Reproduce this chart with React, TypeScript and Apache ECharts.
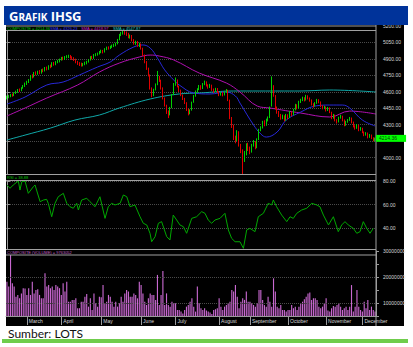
import React, { useEffect, useRef } from 'react';
import * as echarts from 'echarts';

// [open, close, low, high] per trading day (mid-Feb .. early Dec)
const CANDLES: number[][] = [
  // Feb
  [4540, 4552, 4530, 4565], [4555, 4560, 4541, 4572], [4558, 4570, 4550, 4580], [4575, 4566, 4555, 4584],
  [4566, 4589, 4560, 4596], [4592, 4598, 4580, 4610], [4600, 4616, 4590, 4625], [4620, 4610, 4598, 4630],
  [4612, 4634, 4605, 4642], [4636, 4655, 4628, 4662], [4650, 4671, 4644, 4684],
  // Mar
  [4675, 4689, 4662, 4700], [4692, 4700, 4680, 4716], [4705, 4744, 4700, 4752], [4748, 4735, 4722, 4760],
  [4738, 4771, 4730, 4780], [4775, 4765, 4750, 4786], [4762, 4780, 4755, 4792], [4786, 4772, 4760, 4798],
  [4770, 4799, 4765, 4806], [4802, 4790, 4778, 4812], [4792, 4817, 4785, 4826], [4820, 4810, 4795, 4830],
  [4808, 4835, 4800, 4842], [4840, 4828, 4815, 4848], [4830, 4862, 4824, 4870], [4866, 4850, 4838, 4872],
  [4848, 4872, 4842, 4880], [4870, 4880, 4860, 4892], [4878, 4890, 4868, 4902],
  // Apr
  [4892, 4908, 4884, 4918], [4912, 4900, 4888, 4920], [4898, 4917, 4890, 4926], [4920, 4922, 4905, 4934],
  [4918, 4926, 4908, 4938], [4930, 4915, 4902, 4936], [4918, 4908, 4890, 4924], [4910, 4895, 4880, 4915],
  [4898, 4872, 4860, 4902], [4875, 4860, 4845, 4882], [4858, 4853, 4835, 4870], [4855, 4848, 4830, 4866],
  [4845, 4853, 4832, 4862], [4850, 4862, 4842, 4874], [4860, 4872, 4850, 4882], [4875, 4890, 4866, 4898],
  [4892, 4917, 4885, 4925], [4920, 4908, 4896, 4928], [4905, 4935, 4900, 4944], [4938, 4940, 4924, 4952],
  [4944, 4945, 4930, 4958], [4948, 4963, 4940, 4972],
  // May
  [4965, 4972, 4952, 4984], [4975, 4965, 4950, 4982], [4962, 4990, 4958, 4998], [4992, 5000, 4980, 5012],
  [5004, 4999, 4985, 5014], [4998, 5010, 4990, 5020], [5012, 5018, 5000, 5030], [5020, 5025, 5008, 5038],
  [5028, 5036, 5015, 5048], [5040, 5072, 5032, 5082], [5076, 5118, 5070, 5128], [5120, 5136, 5108, 5145],
  [5138, 5148, 5122, 5155], [5150, 5136, 5120, 5158], [5138, 5127, 5110, 5150], [5130, 5100, 5088, 5138],
  [5098, 5109, 5085, 5122], [5112, 5072, 5060, 5118], [5070, 5045, 5030, 5080], [5040, 5054, 5028, 5066],
  [5058, 5027, 5010, 5064], [5025, 5036, 5008, 5048],
  // Jun
  [5030, 4999, 4985, 5040], [4995, 4935, 4925, 5002], [4930, 4872, 4860, 4940], [4868, 4817, 4800, 4880],
  [4812, 4753, 4740, 4820], [4750, 4634, 4620, 4758], [4630, 4570, 4550, 4640], [4568, 4616, 4560, 4628],
  [4620, 4662, 4612, 4676], [4668, 4726, 4660, 4790], [4730, 4707, 4690, 4745], [4700, 4634, 4620, 4710],
  [4630, 4543, 4530, 4640], [4540, 4479, 4465, 4548], [4475, 4415, 4398, 4482], [4410, 4388, 4360, 4430],
  [4392, 4452, 4385, 4462], [4455, 4570, 4450, 4580], [4575, 4662, 4570, 4680],
  // Jul
  [4665, 4707, 4655, 4730], [4700, 4650, 4640, 4712], [4648, 4610, 4598, 4656], [4612, 4570, 4560, 4620],
  [4568, 4540, 4525, 4575], [4538, 4500, 4488, 4545], [4498, 4440, 4425, 4505], [4438, 4400, 4385, 4448],
  [4402, 4430, 4395, 4440], [4432, 4500, 4428, 4510], [4505, 4560, 4500, 4570], [4562, 4600, 4555, 4612],
  [4602, 4620, 4590, 4632], [4625, 4650, 4615, 4662], [4652, 4630, 4618, 4660], [4632, 4670, 4625, 4680],
  [4672, 4690, 4660, 4702], [4688, 4660, 4648, 4695], [4662, 4640, 4628, 4668], [4642, 4660, 4635, 4672],
  [4658, 4620, 4608, 4665], [4622, 4600, 4590, 4630], [4602, 4625, 4596, 4636], [4628, 4600, 4590, 4634],
  // Aug
  [4598, 4570, 4560, 4605], [4572, 4589, 4565, 4598], [4592, 4570, 4558, 4600], [4572, 4598, 4566, 4608],
  [4600, 4616, 4590, 4625], [4610, 4525, 4515, 4618], [4520, 4361, 4350, 4528], [4350, 4297, 4270, 4370],
  [4290, 4178, 4160, 4300], [4175, 4160, 4130, 4200], [4165, 4233, 4150, 4250], [4228, 4114, 4100, 4240],
  [4110, 4069, 4040, 4125], [4060, 3977, 3850, 4075], [3980, 4023, 3960, 4060], [4030, 4114, 4020, 4130],
  [4110, 4087, 4060, 4135],
  // Sep
  [4085, 4050, 4030, 4100], [4055, 4114, 4045, 4125], [4118, 4142, 4100, 4160], [4140, 4087, 4075, 4150],
  [4090, 4160, 4085, 4175], [4165, 4251, 4160, 4262], [4255, 4269, 4240, 4285], [4275, 4324, 4265, 4335],
  [4320, 4297, 4285, 4340], [4300, 4342, 4290, 4355], [4345, 4361, 4330, 4375], [4365, 4452, 4360, 4465],
  [4470, 4662, 4465, 4740], [4640, 4570, 4555, 4660], [4565, 4452, 4440, 4570], [4455, 4415, 4400, 4465],
  [4410, 4388, 4370, 4425], [4385, 4361, 4345, 4398], [4365, 4379, 4350, 4392], [4375, 4342, 4330, 4385],
  [4345, 4388, 4335, 4398],
  // Oct
  [4385, 4361, 4348, 4395], [4365, 4415, 4360, 4425], [4412, 4388, 4375, 4420], [4392, 4434, 4385, 4445],
  [4438, 4479, 4430, 4490], [4475, 4452, 4440, 4486], [4455, 4507, 4448, 4518], [4510, 4525, 4498, 4536],
  [4528, 4543, 4515, 4555], [4540, 4525, 4512, 4550], [4528, 4561, 4520, 4572], [4558, 4543, 4530, 4568],
  [4540, 4525, 4510, 4548], [4522, 4488, 4475, 4530], [4485, 4470, 4455, 4495], [4472, 4497, 4465, 4506],
  [4500, 4525, 4490, 4535], [4522, 4507, 4495, 4532], [4505, 4470, 4460, 4512], [4468, 4452, 4440, 4478],
  [4455, 4461, 4442, 4472],
  // Nov
  [4458, 4434, 4420, 4465], [4436, 4452, 4425, 4462], [4450, 4415, 4405, 4458], [4412, 4361, 4350, 4418],
  [4365, 4388, 4355, 4398], [4385, 4342, 4330, 4392], [4340, 4324, 4310, 4350], [4328, 4361, 4320, 4372],
  [4365, 4379, 4355, 4390], [4375, 4342, 4330, 4382], [4340, 4297, 4285, 4348], [4300, 4324, 4290, 4335],
  [4328, 4342, 4318, 4352], [4345, 4361, 4335, 4370], [4358, 4324, 4312, 4365], [4320, 4288, 4275, 4328],
  [4285, 4269, 4255, 4295], [4272, 4297, 4262, 4306], [4294, 4251, 4240, 4300], [4255, 4269, 4245, 4278],
  // Dec
  [4265, 4233, 4222, 4272], [4230, 4205, 4195, 4238], [4208, 4224, 4200, 4232], [4220, 4187, 4175, 4228],
  [4190, 4205, 4180, 4215], [4200, 4178, 4168, 4210], [4175, 4160, 4148, 4185], [4162, 4175, 4150, 4182],
];

// moving averages, sampled [day index, value]
const SMA_SHORT: number[][] = [
  [0, 4488], [10, 4552], [22, 4662], [31, 4689], [40, 4753], [50, 4826], [57, 4872], [62, 4935],
  [70, 5009], [75, 5027], [79, 4999], [83, 4908], [87, 4799], [92, 4707], [95, 4662], [103, 4589],
  [112, 4580], [121, 4598], [126, 4561], [128.5, 4497], [136, 4297], [140, 4215], [143, 4187],
  [149, 4233], [154, 4342], [162, 4415], [170, 4470], [178, 4479], [185, 4479], [189, 4452],
  [196, 4342], [203, 4288],
];
const SMA_MID: number[][] = [
  [0, 4379], [10, 4452], [22, 4543], [39, 4662], [51, 4780], [62, 4862], [73, 4917], [79, 4935],
  [84, 4926], [92, 4890], [106, 4771], [121, 4680], [128.5, 4598], [138, 4470], [145, 4452],
  [162, 4406], [178, 4370], [189, 4424], [203.5, 4397],
];
const SMA_LONG: number[][] = [
  [0, 4160], [10, 4205], [24, 4269], [37.5, 4342], [51, 4388], [62, 4452], [79, 4534], [95, 4580],
  [106.5, 4589], [125, 4607], [139.5, 4607], [161.6, 4607], [178, 4616], [203.5, 4598],
];

// RSI, sampled [day index, value]
const RSI: number[][] = [
  [0, 76.6], [1.7, 73.8], [3.5, 76.6], [6.3, 80], [7.2, 72.3], [8.2, 79.4], [10, 80], [11.8, 69.5],
  [14.6, 75.2], [15.5, 76.6], [18.3, 62.4], [20.1, 63.8], [21.9, 64.4], [22.8, 61], [24.7, 49.6],
  [26.5, 61], [28.3, 66.6], [31.1, 69.5], [33, 61], [34.8, 58.1], [36.6, 56.8], [38.5, 61], [39.4, 55.3],
  [41.2, 63.8], [44, 65.3], [45.8, 62.4], [48.6, 58.1], [51.3, 66.6], [54.1, 48.2], [55.9, 58.1],
  [57.8, 61], [59.6, 59.6], [62.4, 61], [64.2, 68.1], [66.1, 66.6], [67.9, 58.1], [70.6, 59.6],
  [73.4, 49.6], [75.2, 44], [77.1, 42.6], [78.9, 35.5], [79.8, 28.3], [81.7, 32.6], [83.5, 44],
  [85.3, 45.4], [88.1, 32.6], [89.9, 29.8], [91.7, 51], [93.6, 46.8], [95.4, 42.6], [97.3, 41.1],
  [99.1, 35.5], [101.9, 48.2], [104.6, 49.6], [107.4, 53.9], [109.2, 52.5], [111, 46.8], [112.9, 44],
  [114.7, 46.8], [117.5, 48.2], [120.2, 52.5], [122.1, 38.3], [123.9, 31.2], [125.8, 28.3],
  [128.5, 28.3], [130.4, 22.7], [132.2, 38.3], [134, 39.7], [136.8, 36.9], [138.6, 49.6], [141.4, 52.5],
  [144.1, 61], [146, 59.6], [146.9, 63.8], [148.7, 58.1], [151.5, 51], [154.3, 45.4], [156.1, 49.6],
  [157.9, 48.2], [159.8, 52.5], [162.5, 55.3], [165.3, 56.8], [168.1, 61], [170.8, 59.6], [172.6, 58.1],
  [174.5, 51], [177.3, 42.6], [180, 49.6], [182.7, 36.9], [184.6, 42.6], [186.4, 45.4], [188.2, 42.6],
  [191, 39.7], [192.9, 35.5], [194.7, 36.9], [196.5, 45.4], [198.4, 39.7], [200.2, 35.5], [202, 39.7],
];

// daily volume, millions of shares
const VOLUME_M: number[] = [
  18.2, 16.3, 28.5, 17.6, 16.3, 12.4, 13.1, 11.8, 13.7, 15.7,
  15.6, 13.1, 15.7, 13.1, 18.2, 13.7, 15.0, 15.3, 13.1, 11.8,
  11.8, 21.4, 16.3, 16.9, 15.7, 16.3, 15.0, 16.9, 16.3, 15.7,
  13.1, 17.6, 14.4, 18.2, 10.5, 10.5, 11.2, 11.2, 11.8, 8.0,
  8.0, 10.5, 10.5, 12.4, 13.5, 8.6, 11.8, 7.3, 13.7, 9.9,
  8.6, 12.4, 12.2, 16.9, 9.9, 10.5, 13.1, 12.4, 10.5, 8.6,
  10.5, 8.6, 9.9, 12.4, 10.5, 13.7, 15.0, 14.4, 12.4, 12.4,
  13.7, 13.1, 11.8, 18.2, 16.9, 13.7, 10.5, 9.2, 11.8, 13.7,
  13.1, 13.1, 11.2, 20.8, 9.2, 13.1, 22.3, 9.2, 13.7, 9.2,
  8.6, 10.5, 9.9, 9.9, 7.3, 7.3, 6.7, 6.0, 7.3, 8.6,
  9.2, 10.5, 11.8, 8.6, 6.7, 16.3, 9.9, 8.0, 7.3, 8.0,
  7.1, 6.7, 6.3, 5.8, 7.3, 7.6, 8.0, 11.8, 8.6, 7.3,
  8.6, 9.2, 9.9, 10.5, 15.0, 14.4, 16.9, 12.4, 8.0, 10.5,
  11.8, 11.2, 14.4, 10.5, 10.5, 9.9, 9.2, 8.6, 9.9, 15.0,
  15.0, 11.2, 9.2, 8.6, 12.4, 10.5, 8.6, 19.5, 14.4, 8.6,
  8.0, 9.2, 7.3, 7.3, 6.7, 7.3, 7.3, 9.2, 8.0, 8.6,
  7.3, 8.6, 9.9, 10.5, 11.4, 12.4, 13.7, 14.0, 11.2, 11.8,
  11.8, 11.2, 8.6, 8.0, 8.6, 9.9, 11.8, 7.1, 6.7, 8.0,
  8.8, 8.6, 9.2, 9.9, 8.6, 7.3, 8.0, 8.6, 7.3, 8.6,
  16.9, 6.7, 8.6, 15.0, 8.6, 7.3, 6.7, 10.5, 8.0, 11.2,
  7.3, 8.6, 7.3, 6.7,
];

const MONTH_START_IDX = [11, 30, 52, 74, 93, 117, 134, 155, 176, 196];
const MONTH_NAMES = ['March', 'April', 'May', 'June', 'July', 'August', 'September', 'October', 'November', 'December'];

const TITLE_PARTS = { first: 'G', rest: 'RAFIK', second: 'IHSG' };
const SOURCE = 'Sumber: LOTS';
const LAST_LABEL = '4214.36';
const HIDDEN_PRICE_TICK = 4150; // covered by the last-price box in the reference
const LEGEND_PRICE = [
  { text: 'COMPOSITE = 4214.36', color: '#00d000', x: 7 },
  { text: 'SMA = 4326.23', color: '#3b3bff', x: 50 },
  { text: 'SMA = 4418.97', color: '#d020d0', x: 81 },
  { text: 'SMA = 4547.87', color: '#20c8c8', x: 113 },
];
const RSI_HEADER = 'RSI = 38.88';
const VOL_HEADER = 'COMPOSITE (VOLUME) = 9763052';

const PRICE_MIN = 3850;
const PRICE_MAX = 5200;
const PRICE_STEP = 150;

export default function App() {
  const ref = useRef<HTMLDivElement>(null);

  useEffect(() => {
    if (!ref.current) return;
    const chart = echarts.init(ref.current, null, { renderer: 'svg', width: 413, height: 347 });
    const cats = CANDLES.map((_, i) => String(i));
    const last = CANDLES[CANDLES.length - 1][1];
    const L = 6, R = 37;
    const axisFont = { fontSize: 5, color: '#d8d8d8', fontFamily: 'Liberation Sans, Arial, sans-serif' };
    const yCommon = {
      position: 'right',
      axisLine: { show: true, lineStyle: { color: '#9a9a9a', width: 1 } },
      axisTick: { show: true, length: 3, lineStyle: { color: '#9a9a9a' } },
      splitLine: { show: true, lineStyle: { color: '#4a4a4a', type: 'dotted', width: 1 } },
    };
    const monthShown = (idx: number) => MONTH_START_IDX.includes(idx);
    const hLine = (y: number) => ({
      type: 'line', z: 60, silent: true,
      shape: { x1: L, y1: y, x2: 376, y2: y },
      style: { stroke: '#a0a0a0', lineWidth: 1 },
    });
    const titleFont = 'Open Sans, Liberation Sans, sans-serif';
    const option: any = {
      animation: false,
      grid: [
        { left: L, right: R, top: 26, height: 148 },
        { left: L, right: R, top: 181, height: 70.5 },
        { left: L, right: R, top: 251, height: 65 },
      ],
      xAxis: [
        { type: 'category', gridIndex: 0, data: cats, show: false },
        { type: 'value', gridIndex: 0, min: -0.5, max: cats.length - 0.5, show: false },
        { type: 'value', gridIndex: 1, min: -0.5, max: cats.length - 0.5, show: false },
        {
          type: 'category', gridIndex: 2, data: cats,
          axisLine: { show: true, lineStyle: { color: '#9a9a9a' } },
          axisTick: { show: true, interval: (i: number) => monthShown(i), alignWithLabel: true, length: 9, lineStyle: { color: '#9a9a9a' } },
          axisLabel: {
            ...axisFont, interval: (i: number) => monthShown(i), align: 'left', margin: 2, padding: [0, 0, 0, 2],
            formatter: (_v: string, i: number) => MONTH_NAMES[MONTH_START_IDX.indexOf(i)] ?? '',
          },
          splitLine: { show: false },
        },
      ],
      yAxis: [
        {
          ...yCommon, gridIndex: 0, min: PRICE_MIN, max: PRICE_MAX, interval: PRICE_STEP,
          axisLabel: {
            ...axisFont, margin: 7, showMinLabel: false,
            formatter: (v: number) => (v === HIDDEN_PRICE_TICK ? '' : v.toFixed(2)),
          },
        },
        {
          ...yCommon, gridIndex: 1, min: 20, max: 80, interval: 20,
          axisLabel: { ...axisFont, margin: 7, showMinLabel: false, formatter: (v: number) => v.toFixed(2) },
        },
        {
          ...yCommon, gridIndex: 2, min: 5e6, max: 3e7, interval: 5e6,
          splitLine: { show: false },
          axisLabel: { ...axisFont, margin: 7, formatter: (v: number) => (v % 1e7 === 0 ? String(v) : '') },
        },
      ],
      series: [
        {
          type: 'candlestick', xAxisIndex: 0, yAxisIndex: 0, data: CANDLES, barWidth: 1.2, z: 3,
          itemStyle: { color: '#00d000', color0: '#e00000', borderColor: '#00d000', borderColor0: '#e00000', borderWidth: 1 },
          markLine: {
            silent: true, symbol: ['none', 'none'], z: 80,
            lineStyle: { color: 'rgba(0,0,0,0)', width: 1, type: 'solid' },
            data: [{ yAxis: last }],
            label: {
              show: true, position: 'end', distance: 0, formatter: LAST_LABEL, opacity: 1,
              backgroundColor: '#00ff00', color: '#0a3a0a', fontSize: 5, padding: [1, 9, 1, 3],
              fontFamily: 'Liberation Sans, Arial, sans-serif',
            },
          },
        },
        { type: 'line', xAxisIndex: 1, yAxisIndex: 0, data: SMA_LONG, smooth: 0.4, showSymbol: false, lineStyle: { color: '#10a8a8', width: 1 } },
        { type: 'line', xAxisIndex: 1, yAxisIndex: 0, data: SMA_MID, smooth: 0.4, showSymbol: false, lineStyle: { color: '#b010b0', width: 1 } },
        { type: 'line', xAxisIndex: 1, yAxisIndex: 0, data: SMA_SHORT, smooth: 0.4, showSymbol: false, lineStyle: { color: '#2828d8', width: 1 } },
        { type: 'line', xAxisIndex: 2, yAxisIndex: 1, data: RSI, showSymbol: false, lineStyle: { color: '#00a800', width: 1 } },
        {
          type: 'bar', xAxisIndex: 3, yAxisIndex: 2, data: VOLUME_M.map((v) => v * 1e6), barWidth: '62%',
          itemStyle: { color: '#c868d0' },
          markLine: {
            silent: true, symbol: ['none', 'none'], label: { show: false },
            lineStyle: { color: '#4a4a4a', type: 'dotted', width: 1 },
            data: [{ yAxis: 1e7 }, { yAxis: 2e7 }],
          },
        },
      ],
      graphic: [
        { type: 'rect', z: -10, silent: true, shape: { x: 6, y: 25, width: 398, height: 301 }, style: { fill: '#000' } },
        { type: 'rect', z: 70, silent: true, shape: { x: 4, y: 6, width: 404, height: 19 }, style: { fill: '#00339a' } },
        {
          type: 'text', z: 71, x: 9, y: 22, silent: true,
          style: {
            text: `{a|${TITLE_PARTS.first}}{b|${TITLE_PARTS.rest}} {a|${TITLE_PARTS.second}}`,
            verticalAlign: 'bottom',
            rich: {
              a: { fontSize: 13, fontWeight: 'bold', fill: '#fff', fontFamily: titleFont, verticalAlign: 'bottom' },
              b: { fontSize: 10, fontWeight: 'bold', fill: '#fff', fontFamily: titleFont, verticalAlign: 'bottom' },
            },
          },
        },
        // price header band
        { type: 'rect', z: 50, silent: true, shape: { x: L, y: 25, width: 370, height: 5.5 }, style: { fill: '#000' } },
        hLine(26), hLine(30.5),
        ...LEGEND_PRICE.map((t) => ({
          type: 'text', z: 61, x: t.x, y: 28.3, silent: true,
          style: { text: t.text, fill: t.color, fontSize: 4, verticalAlign: 'middle', fontFamily: 'Liberation Sans, Arial, sans-serif' },
        })),
        // RSI header band
        { type: 'rect', z: 50, silent: true, shape: { x: L, y: 174.5, width: 370, height: 6 }, style: { fill: '#000' } },
        hLine(174.5), hLine(180.5),
        {
          type: 'text', z: 61, x: 7, y: 177.5, silent: true,
          style: { text: RSI_HEADER, fill: '#00c000', fontSize: 4, verticalAlign: 'middle', fontFamily: 'Liberation Sans, Arial, sans-serif' },
        },
        // volume header band
        { type: 'rect', z: 50, silent: true, shape: { x: L, y: 249.5, width: 370, height: 5.5 }, style: { fill: '#000' } },
        hLine(249.5), hLine(255),
        {
          type: 'text', z: 61, x: 7, y: 252.3, silent: true,
          style: { text: VOL_HEADER, fill: '#c060c0', fontSize: 4, verticalAlign: 'middle', fontFamily: 'Liberation Sans, Arial, sans-serif' },
        },
        {
          type: 'line', z: 62, silent: true, shape: { x1: 376, y1: 25, x2: 376, y2: 326 },
          style: { stroke: '#a0a0a0', lineWidth: 1 },
        },
        {
          type: 'text', z: 10, x: 8, y: 333, silent: true,
          style: { text: SOURCE, fill: '#111', fontSize: 12, verticalAlign: 'middle', fontFamily: 'Lato, Open Sans, sans-serif' },
        },
        { type: 'rect', z: 10, silent: true, shape: { x: 2, y: 339, width: 406, height: 4 }, style: { fill: '#6fcd4c' } },
      ],
    };
    chart.setOption(option);
    return () => chart.dispose();
  }, []);

  return (
    <div
      ref={ref}
      style={{ position: 'fixed', left: 0, top: 0, width: 413, height: 347, background: '#fff' }}
    />
  );
}
